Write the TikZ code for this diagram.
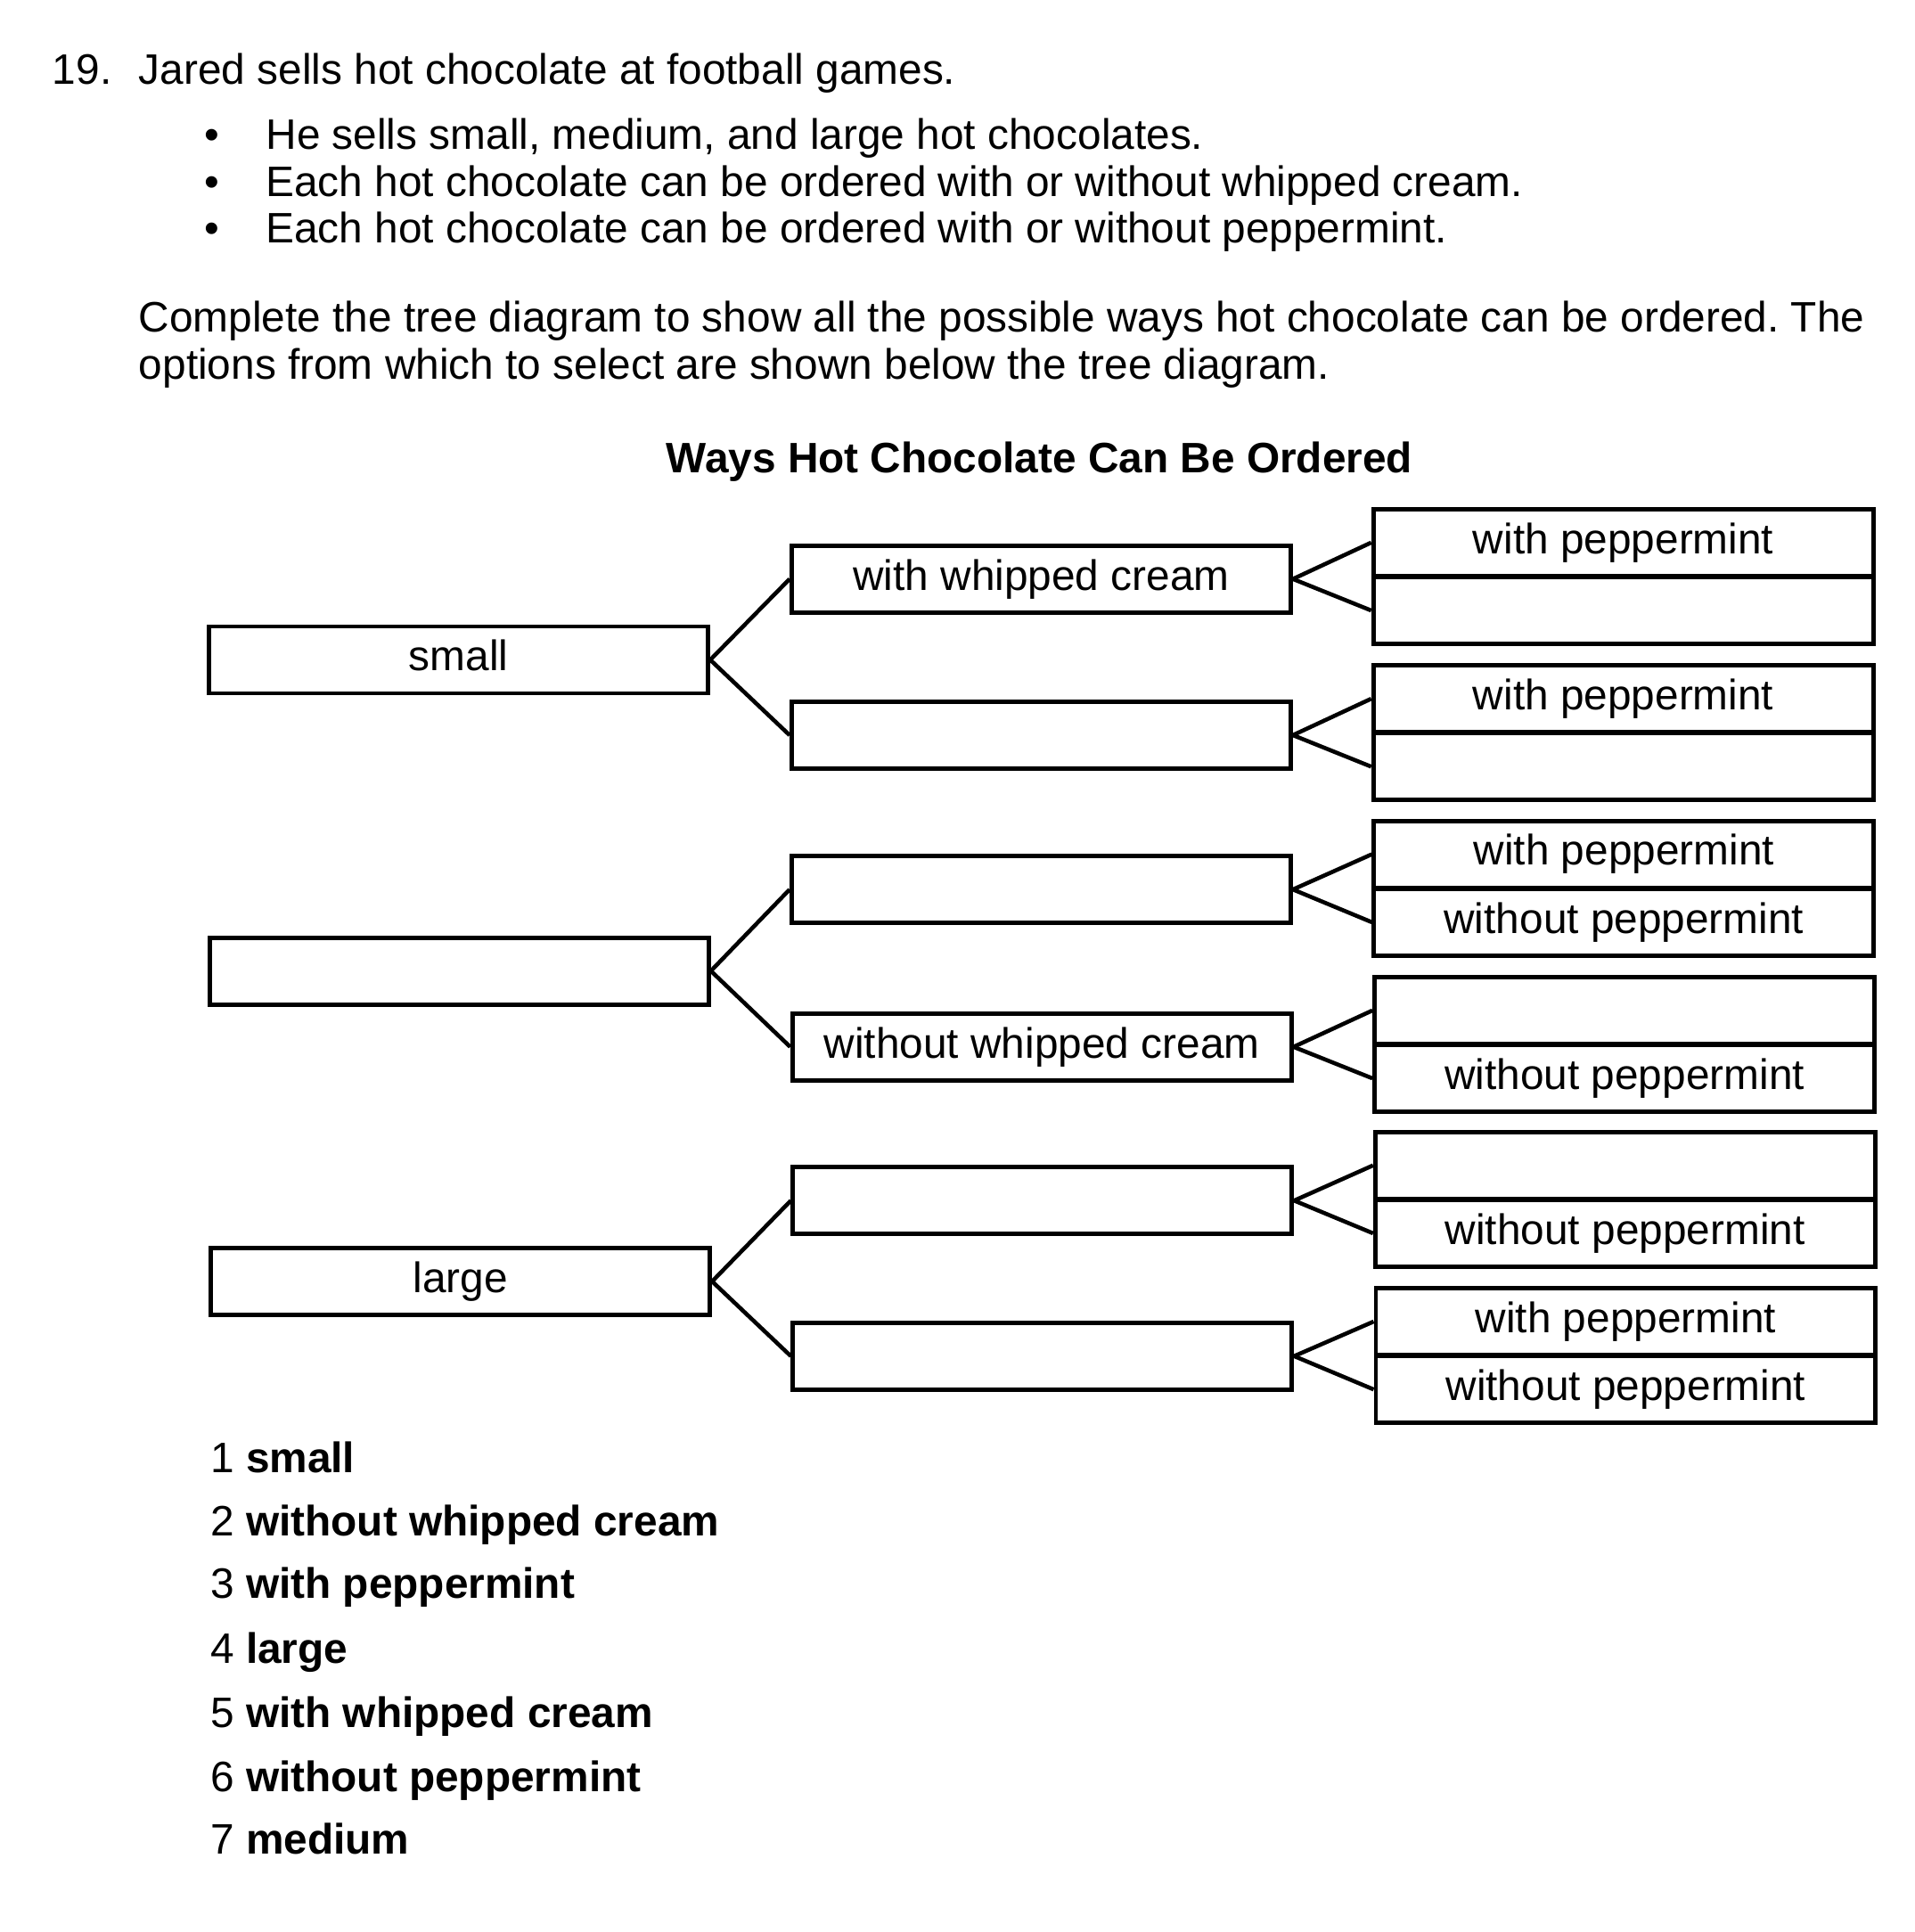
\documentclass[tikz,border=0pt]{standalone}
\usepackage{fontspec}
\setmainfont{Liberation Sans}
\usepackage{tikz}
\usetikzlibrary{positioning}
\frenchspacing

\tikzset{
	txt/.style={anchor=base west, inner sep=0pt},
	box/.style={draw, line width=1.4pt, minimum width=5.6cm, minimum height=0.75cm, inner sep=0pt, text height=0.8em, text depth=0.1em},
	cell/.style={box, minimum width=5.61cm},
	link/.style={line width=1.3pt}
}

\begin{document}
\begin{tikzpicture}[x=0.01385cm, y=-0.01385cm, font=\fontsize{13.6pt}{15pt}\selectfont]
	\useasboundingbox (0,0) rectangle (1551,1565);
	\node[txt] (num) at (42,68) {19.};
	\node[txt] (intro) at (112,68) {Jared sells hot chocolate at football games.};
	\node[anchor=base, inner sep=0pt] at (172,121) {•};
	\node[anchor=base, inner sep=0pt] at (172,159) {•};
	\node[anchor=base, inner sep=0pt] at (172,197) {•};
	\node[txt] (b1) at (215,121) {He sells small, medium, and large hot chocolates.};
	\node[txt] (b2) at (215,159) {Each hot chocolate can be ordered with or without whipped cream.};
	\node[txt] (b3) at (215,197) {Each hot chocolate can be ordered with or without peppermint.};
	\node[txt] (par1) at (112,269) {Complete the tree diagram to show all the possible ways hot chocolate can be ordered. The};
	\node[txt] (par2) at (112,307) {options from which to select are shown below the tree diagram.};
	\node[anchor=base, inner sep=0pt] (title) at (842,383) {\bfseries Ways Hot Chocolate Can Be Ordered};

	\node[box] (small) at (371.5,534.5) {small};
	\node[box] (medium) at (372,786.5) {};
	\node[box] (large) at (373,1038) {large};

	\node[box] (sw) at (843.5,469) {with whipped cream};
	\node[box] (so) at (843.5,595.5) {};
	\node[box] (mw) at (843.5,720.5) {};
	\node[box] (mo) at (844,848) {without whipped cream};
	\node[box] (lw) at (844.5,972.5) {};
	\node[box] (lo) at (844.5,1098.5) {};

	\node[cell] (swp) at (1315,439.5) {with peppermint};
	\node[cell] (swn) at (1315,494.5) {};
	\node[cell] (sop) at (1315,566) {with peppermint};
	\node[cell] (son) at (1315,621) {};
	\node[cell] (mwp) at (1315.5,692) {with peppermint};
	\node[cell] (mwn) at (1315.5,747) {without peppermint};
	\node[cell] (mop) at (1316,818.5) {};
	\node[cell] (mon) at (1316,873.5) {without peppermint};
	\node[cell] (lwp) at (1316.5,944) {};
	\node[cell] (lwn) at (1316.5,999) {without peppermint};
	\node[cell] (lop) at (1317,1070.5) {with peppermint};
	\node[cell] (lon) at (1317,1125.5) {without peppermint};

	\draw[link] (small.east) -- (sw.west);
	\draw[link] (small.east) -- (so.west);
	\draw[link] (medium.east) -- (mw.west);
	\draw[link] (medium.east) -- (mo.west);
	\draw[link] (large.east) -- (lw.west);
	\draw[link] (large.east) -- (lo.west);

	\draw[link] (sw.east) -- (swp.west);
	\draw[link] (sw.east) -- (swn.west);
	\draw[link] (so.east) -- (sop.west);
	\draw[link] (so.east) -- (son.west);
	\draw[link] (mw.east) -- (mwp.west);
	\draw[link] (mw.east) -- (mwn.west);
	\draw[link] (mo.east) -- (mop.west);
	\draw[link] (mo.east) -- (mon.west);
	\draw[link] (lw.east) -- (lwp.west);
	\draw[link] (lw.east) -- (lwn.west);
	\draw[link] (lo.east) -- (lop.west);
	\draw[link] (lo.east) -- (lon.west);

	\node[txt] (o1) at (170,1193) {1 \bfseries small};
	\node[txt] (o2) at (170,1244) {2 \bfseries without whipped cream};
	\node[txt] (o3) at (170,1295) {3 \bfseries with peppermint};
	\node[txt] (o4) at (170,1347) {4 \bfseries large};
	\node[txt] (o5) at (170,1399) {5 \bfseries with whipped cream};
	\node[txt] (o6) at (170,1451) {6 \bfseries without peppermint};
	\node[txt] (o7) at (170,1502) {7 \bfseries medium};
\end{tikzpicture}
\end{document}
